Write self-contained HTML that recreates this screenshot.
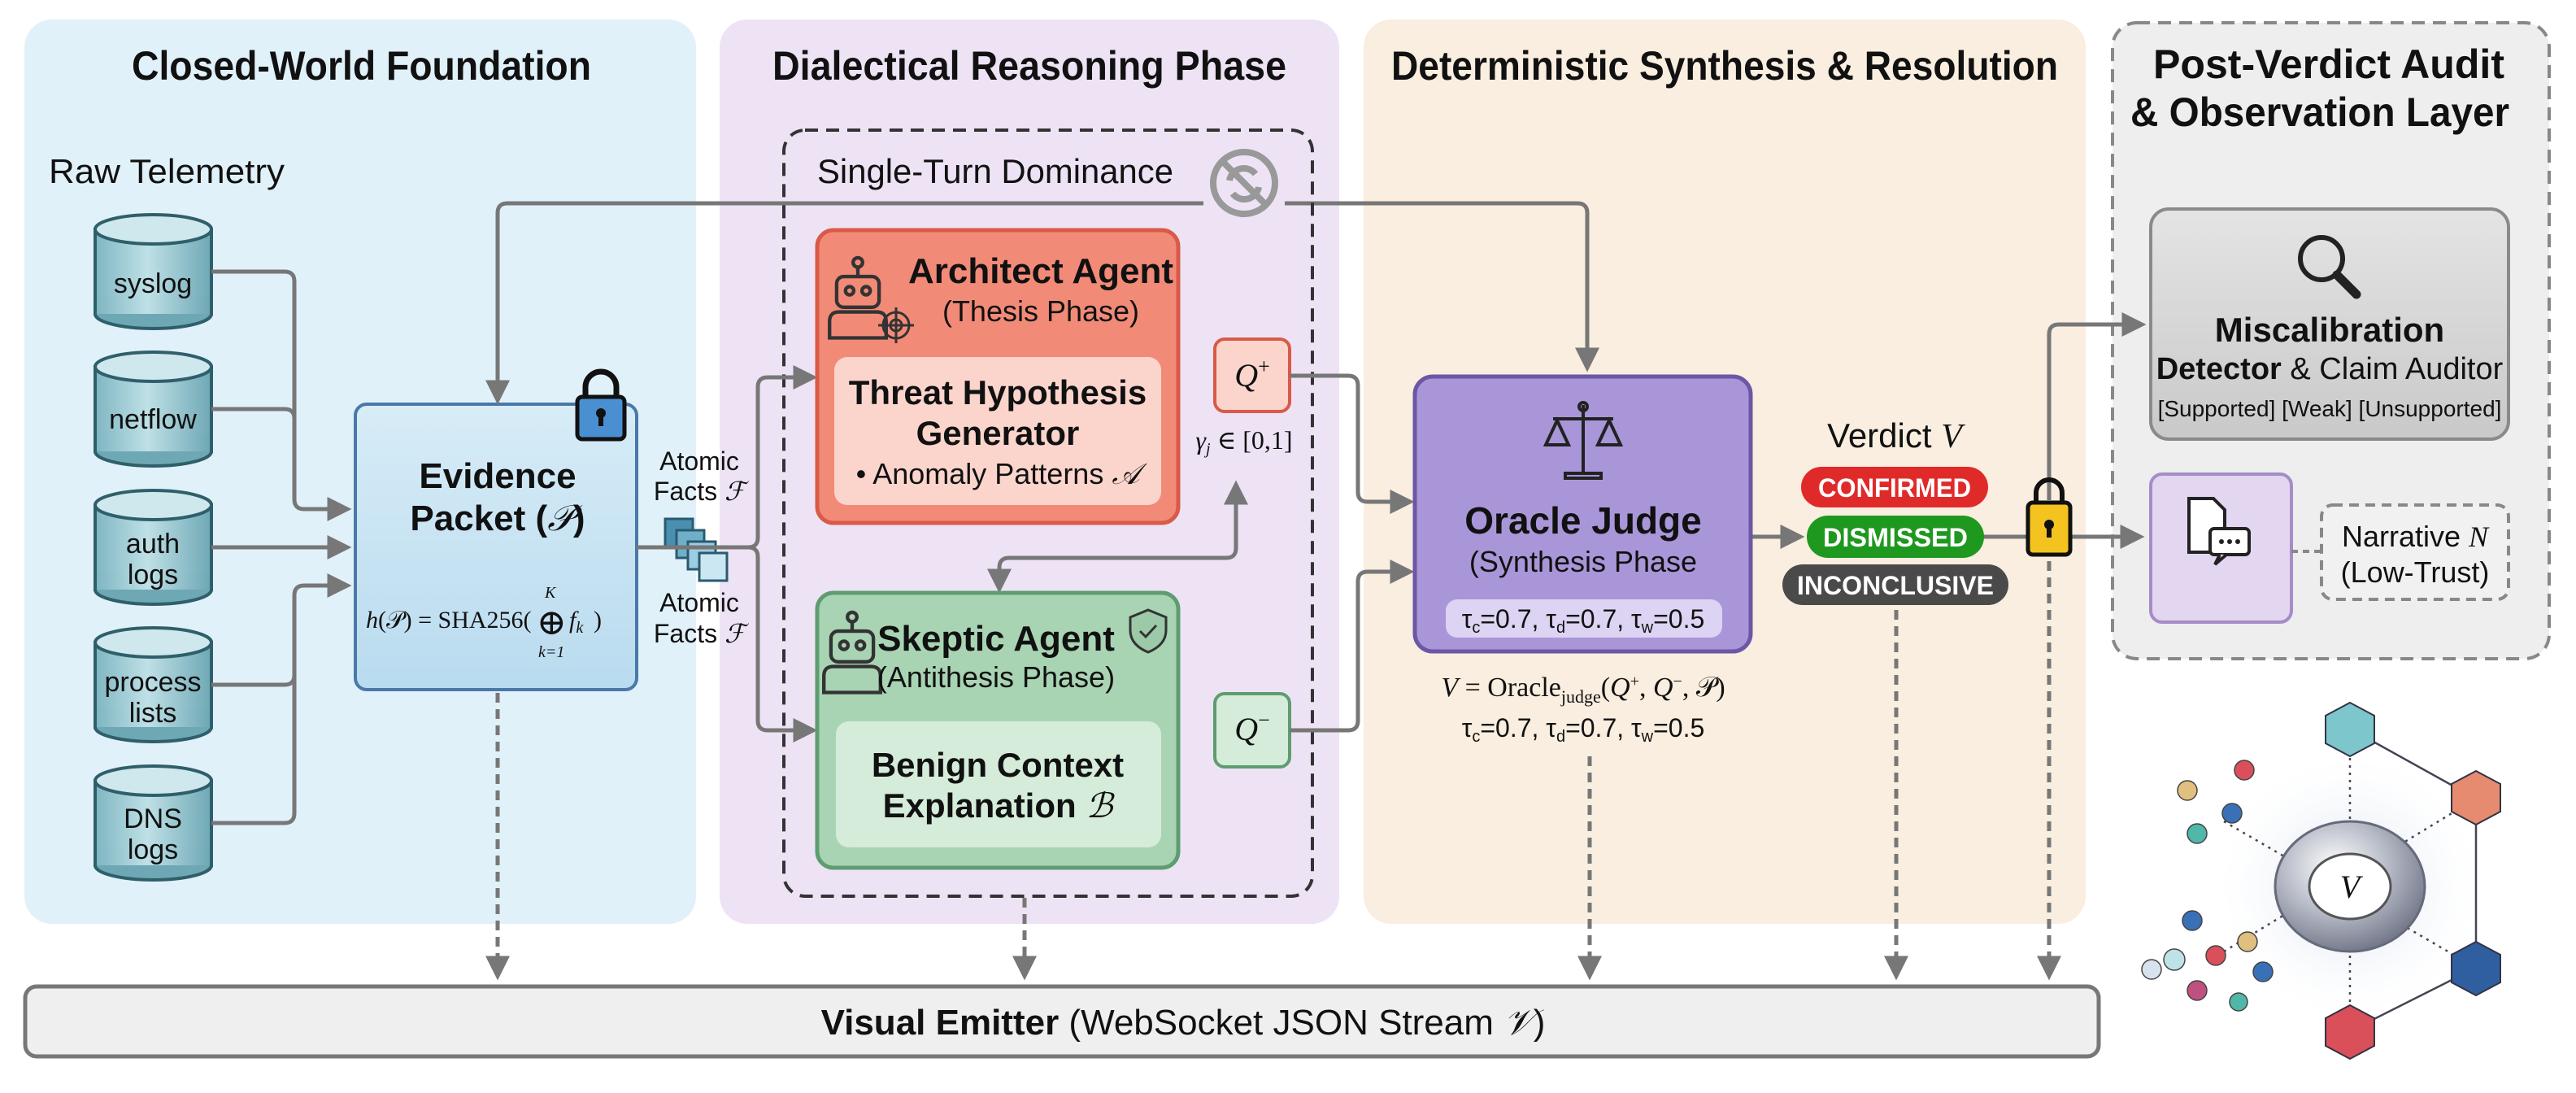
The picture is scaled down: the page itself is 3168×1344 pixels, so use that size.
<!DOCTYPE html>
<html><head><meta charset="utf-8"><style>
html,body{margin:0;padding:0;background:#fff}
svg{display:block}
.t{font-family:"Liberation Sans Narrow","Liberation Sans","DejaVu Sans",sans-serif}
.s{font-family:"Liberation Serif","DejaVu Serif",serif}
</style></head><body>
<svg width="3168" height="1344" viewBox="0 0 3168 1344" xmlns="http://www.w3.org/2000/svg">
<defs>
<marker id="ar" markerWidth="6" markerHeight="6" refX="4.5" refY="3" orient="auto" markerUnits="strokeWidth"><path d="M0,0 L6,3 L0,6 Z" fill="#777"/></marker>
<linearGradient id="cyl" x1="0" x2="1"><stop offset="0" stop-color="#7fb6c2"/><stop offset="0.45" stop-color="#bfe0e6"/><stop offset="1" stop-color="#6ea8b5"/></linearGradient>
<linearGradient id="ev" x1="0" y1="0" x2="0" y2="1"><stop offset="0" stop-color="#d7ecf7"/><stop offset="1" stop-color="#b9dbef"/></linearGradient>
<linearGradient id="gr" x1="0" y1="0" x2="0" y2="1"><stop offset="0" stop-color="#e4e4e4"/><stop offset="1" stop-color="#c9c9c9"/></linearGradient>
<radialGradient id="tor" cx="0.4" cy="0.35" r="0.7"><stop offset="0" stop-color="#ffffff"/><stop offset="0.5" stop-color="#b8bcc8"/><stop offset="1" stop-color="#6d7284"/></radialGradient>
<radialGradient id="halo"><stop offset="0" stop-color="#c9d6ea" stop-opacity="0.8"/><stop offset="1" stop-color="#fff" stop-opacity="0"/></radialGradient>
<g id="cy"><rect x="0" y="18" width="143" height="104" fill="url(#cyl)" stroke="#2f5f6a" stroke-width="4"/><ellipse cx="71.5" cy="122" rx="71.5" ry="18" fill="#6ea8b5" stroke="#2f5f6a" stroke-width="4"/><rect x="2" y="100" width="139" height="22" fill="url(#cyl)"/><ellipse cx="71.5" cy="18" rx="71.5" ry="18" fill="#cfe8ed" stroke="#2f5f6a" stroke-width="4"/></g>
<g id="bot" fill="none" stroke="#333" stroke-width="3"><circle cx="0" cy="-34" r="4"/><line x1="0" y1="-30" x2="0" y2="-22"/><rect x="-18" y="-22" width="36" height="26" rx="6"/><circle cx="-7" cy="-10" r="3.5"/><circle cx="7" cy="-10" r="3.5"/><path d="M-24,30 v-14 q0,-8 8,-8 h32 q8,0 8,8 v14 z"/></g>
</defs>

<!-- panels -->
<rect x="30" y="24" width="826" height="1112" rx="34" fill="#e1f1fa"/>
<rect x="885" y="24" width="762" height="1112" rx="34" fill="#ede3f5"/>
<rect x="1677" y="24" width="888" height="1112" rx="34" fill="#f9eedf"/>
<rect x="2598" y="28" width="537" height="782" rx="30" fill="#eeeeee" stroke="#888" stroke-width="4" stroke-dasharray="16 10"/>

<g class="t" font-weight="bold" font-size="50" fill="#111" lengthAdjust="spacingAndGlyphs">
<text x="162" y="98" textLength="565" lengthAdjust="spacingAndGlyphs">Closed-World Foundation</text>
<text x="950" y="98" textLength="632" lengthAdjust="spacingAndGlyphs">Dialectical Reasoning Phase</text>
<text x="1711" y="98" textLength="820" lengthAdjust="spacingAndGlyphs">Deterministic Synthesis &amp; Resolution</text>
<text x="2648" y="96" textLength="432" lengthAdjust="spacingAndGlyphs">Post-Verdict Audit</text>
<text x="2620" y="155" textLength="466" lengthAdjust="spacingAndGlyphs">&amp; Observation Layer</text>
</g>
<text class="t" x="60" y="225" font-size="42" fill="#111" textLength="290" lengthAdjust="spacingAndGlyphs">Raw Telemetry</text>

<!-- cylinders -->
<use href="#cy" x="117" y="264"/>
<use href="#cy" x="117" y="433"/>
<use href="#cy" x="117" y="603"/>
<use href="#cy" x="117" y="772"/>
<use href="#cy" x="117" y="942"/>
<g class="t" font-size="34" fill="#111" text-anchor="middle">
<text x="188" y="360">syslog</text>
<text x="188" y="527">netflow</text>
<text x="188" y="680">auth</text><text x="188" y="718">logs</text>
<text x="188" y="850">process</text><text x="188" y="888">lists</text>
<text x="188" y="1018">DNS</text><text x="188" y="1056">logs</text>
</g>

<!-- cylinder bus -->
<g fill="none" stroke="#777" stroke-width="5">
<path d="M260,334 H350 q12,0 12,12 V614 q0,12 12,12 H425" marker-end="url(#ar)"/>
<path d="M260,503 H350 q12,0 12,12"/>
<path d="M260,673 H425" marker-end="url(#ar)"/>
<path d="M260,842 H350 q12,0 12,-12 V732 q0,-12 12,-12 H425" marker-end="url(#ar)"/>
<path d="M260,1012 H350 q12,0 12,-12 V830"/>
</g>

<!-- evidence packet -->
<rect x="437" y="497" width="346" height="351" rx="14" fill="url(#ev)" stroke="#4a78a8" stroke-width="4"/>
<g class="t" font-weight="bold" font-size="44" fill="#111" text-anchor="middle">
<text x="612" y="600">Evidence</text><text x="612" y="652">Packet (<tspan class="s" font-style="italic" font-weight="normal">𝒫</tspan>)</text></g>
<g class="s" font-size="30" fill="#111">
<text x="450" y="772"><tspan font-style="italic">h</tspan>(𝒫) = SHA256(</text><text x="660" y="780" font-size="44">⊕</text><text x="700" y="772" font-style="italic">f<tspan font-size="20" dy="6">k</tspan></text><text x="730" y="772">)</text>
<text x="670" y="735" font-size="20" font-style="italic">K</text><text x="662" y="808" font-size="20" font-style="italic">k=1</text></g>
<!-- lock -->
<path d="M720,490 v-14 a19,19 0 0 1 38,0 v14" fill="none" stroke="#111" stroke-width="7"/>
<rect x="710" y="488" width="58" height="52" rx="6" fill="#4a8fd1" stroke="#111" stroke-width="5"/>
<circle cx="739" cy="508" r="6" fill="#111"/><rect x="736" y="508" width="6" height="16" fill="#111"/>

<!-- top loop line -->
<path d="M1480,250 H624 q-12,0 -12,12 V490" fill="none" stroke="#777" stroke-width="5" marker-end="url(#ar)"/>
<path d="M1580,250 H1940 q12,0 12,12 V450" fill="none" stroke="#777" stroke-width="5" marker-end="url(#ar)"/>

<!-- dashed box -->
<rect x="964" y="160" width="650" height="942" rx="26" fill="none" stroke="#333" stroke-width="4" stroke-dasharray="16 10"/>
<text class="t" x="1005" y="225" font-size="42" fill="#111" textLength="438" lengthAdjust="spacingAndGlyphs">Single-Turn Dominance</text>
<g fill="none" stroke="#999" stroke-width="8"><circle cx="1530" cy="225" r="38"/><line x1="1503" y1="198" x2="1557" y2="252"/><path d="M1512,222 a18,18 0 0 1 32,-8"/><path d="M1548,230 a18,18 0 0 1 -32,8"/></g>

<!-- atomic facts -->
<g class="t" font-size="32" fill="#111" text-anchor="middle">
<text x="860" y="578">Atomic</text><text x="860" y="615">Facts <tspan class="s" font-style="italic">ℱ</tspan></text>
<text x="860" y="752">Atomic</text><text x="860" y="790">Facts <tspan class="s" font-style="italic">ℱ</tspan></text></g>
<rect x="818" y="638" width="34" height="34" fill="#4a8fb0" stroke="#2b5a70" stroke-width="3"/>
<rect x="832" y="652" width="34" height="34" fill="#6fb0c8" stroke="#2b5a70" stroke-width="3"/>
<rect x="846" y="666" width="34" height="34" fill="#9ccde0" stroke="#2b5a70" stroke-width="3"/>
<rect x="860" y="680" width="34" height="34" fill="#cbe7f2" stroke="#2b5a70" stroke-width="3"/>
<g fill="none" stroke="#777" stroke-width="5">
<path d="M783,673 H920 q12,0 12,-12 V476 q0,-12 12,-12 H998" marker-end="url(#ar)"/>
<path d="M900,673 H920 q12,0 12,12 V886 q0,12 12,12 H998" marker-end="url(#ar)"/>
<path d="M1229,722 V698 q0,-12 12,-12 H1508 q12,0 12,-12 V598" marker-end="url(#ar)"/>
<path d="M1229,700 V722" marker-end="url(#ar)"/>
</g>

<!-- architect -->
<rect x="1005" y="283" width="444" height="360" rx="20" fill="#f28a78" stroke="#d95a48" stroke-width="5"/>
<use href="#bot" transform="translate(1055,372) scale(1.45)"/>
<g fill="none" stroke="#333" stroke-width="3"><circle cx="1102" cy="400" r="16"/><circle cx="1102" cy="400" r="7"/><line x1="1080" y1="400" x2="1124" y2="400"/><line x1="1102" y1="378" x2="1102" y2="422"/></g>
<text class="t" x="1280" y="348" font-weight="bold" font-size="44" fill="#111" text-anchor="middle">Architect Agent</text>
<text class="t" x="1280" y="395" font-size="36" fill="#111" text-anchor="middle">(Thesis Phase)</text>
<rect x="1026" y="439" width="402" height="182" rx="16" fill="#fbd5cc"/>
<g class="t" fill="#111" text-anchor="middle"><text x="1227" y="497" font-weight="bold" font-size="42">Threat Hypothesis</text><text x="1227" y="547" font-weight="bold" font-size="42">Generator</text><text x="1227" y="595" font-size="36">• Anomaly Patterns <tspan class="s" font-style="italic">𝒜</tspan></text></g>
<rect x="1494" y="417" width="92" height="89" rx="12" fill="#fbd5cc" stroke="#d95a48" stroke-width="4"/>
<text class="s" x="1540" y="475" font-style="italic" font-size="40" fill="#111" text-anchor="middle">Q<tspan font-size="26" dy="-16" font-style="normal">+</tspan></text>
<text class="s" x="1530" y="552" font-size="32" fill="#111" text-anchor="middle"><tspan font-style="italic">γ<tspan font-size="20" dy="6">j</tspan></tspan><tspan dy="-6"> ∈ [0,1]</tspan></text>

<!-- skeptic -->
<rect x="1005" y="729" width="444" height="338" rx="20" fill="#a9d4b4" stroke="#5f9c70" stroke-width="5"/>
<use href="#bot" transform="translate(1048,808) scale(1.45)"/>
<text class="t" x="1225" y="800" font-weight="bold" font-size="44" fill="#111" text-anchor="middle">Skeptic Agent</text>
<path d="M1412,750 l22,9 v16 q0,18 -22,27 q-22,-9 -22,-27 v-16 z" fill="#9cc9a8" stroke="#333" stroke-width="3"/><path d="M1402,776 l7,7 l13,-14" fill="none" stroke="#333" stroke-width="3"/>
<text class="t" x="1225" y="845" font-size="36" fill="#111" text-anchor="middle">(Antithesis Phase)</text>
<rect x="1028" y="887" width="400" height="155" rx="16" fill="#d4ecd9"/>
<g class="t" fill="#111" text-anchor="middle" font-weight="bold" font-size="42"><text x="1227" y="955">Benign Context</text><text x="1227" y="1005">Explanation <tspan class="s" font-style="italic" font-weight="normal">ℬ</tspan></text></g>
<rect x="1494" y="853" width="92" height="90" rx="12" fill="#d4ecd9" stroke="#5f9c70" stroke-width="4"/>
<text class="s" x="1540" y="910" font-style="italic" font-size="40" fill="#111" text-anchor="middle">Q<tspan font-size="26" dy="-16" font-style="normal">−</tspan></text>

<g fill="none" stroke="#777" stroke-width="5">
<path d="M1586,462 H1658 q12,0 12,12 V605 q0,12 12,12 H1732" marker-end="url(#ar)"/>
<path d="M1586,898 H1658 q12,0 12,-12 V715 q0,-12 12,-12 H1732" marker-end="url(#ar)"/>
<path d="M2153,660 H2212" marker-end="url(#ar)"/>
<path d="M2438,660 H2492"/>
<path d="M2548,660 H2630" marker-end="url(#ar)"/>
<path d="M2520,615 V411 q0,-12 12,-12 H2632" marker-end="url(#ar)"/>
</g>

<!-- oracle -->
<rect x="1740" y="463" width="413" height="338" rx="22" fill="#a996d8" stroke="#6b57a6" stroke-width="5"/>
<g fill="none" stroke="#222" stroke-width="4"><line x1="1947" y1="498" x2="1947" y2="580"/><line x1="1910" y1="515" x2="1984" y2="515"/><path d="M1915,517 l-14,30 h28 z"/><path d="M1979,517 l-14,30 h28 z"/><path d="M1925,582 h44 v6 h-44 z"/><circle cx="1947" cy="500" r="5"/></g>
<text class="t" x="1947" y="656" font-weight="bold" font-size="46" fill="#111" text-anchor="middle">Oracle Judge</text>
<text class="t" x="1947" y="703" font-size="36" fill="#111" text-anchor="middle">(Synthesis Phase</text>
<rect x="1778" y="737" width="340" height="47" rx="14" fill="#ddd3f2"/>
<text class="t" x="1947" y="772" font-size="32" fill="#111" text-anchor="middle">τ<tspan font-size="20" dy="6">c</tspan><tspan dy="-6">=0.7, τ</tspan><tspan font-size="20" dy="6">d</tspan><tspan dy="-6">=0.7, τ</tspan><tspan font-size="20" dy="6">w</tspan><tspan dy="-6">=0.5</tspan></text>
<text class="s" x="1947" y="856" font-size="34" fill="#111" text-anchor="middle"><tspan font-style="italic">V</tspan> = Oracle<tspan font-size="22" dy="8">judge</tspan><tspan dy="-8">(</tspan><tspan font-style="italic">Q</tspan><tspan font-size="20" dy="-12">+</tspan><tspan dy="12">, </tspan><tspan font-style="italic">Q</tspan><tspan font-size="20" dy="-12">−</tspan><tspan dy="12">, 𝒫)</tspan></text>
<text class="t" x="1947" y="906" font-size="32" fill="#111" text-anchor="middle">τ<tspan font-size="20" dy="6">c</tspan><tspan dy="-6">=0.7, τ</tspan><tspan font-size="20" dy="6">d</tspan><tspan dy="-6">=0.7, τ</tspan><tspan font-size="20" dy="6">w</tspan><tspan dy="-6">=0.5</tspan></text>

<!-- verdict -->
<text class="t" x="2330" y="550" font-size="42" fill="#111" text-anchor="middle">Verdict <tspan class="s" font-style="italic">V</tspan></text>
<rect x="2215" y="574" width="230" height="50" rx="25" fill="#e02a2a"/>
<rect x="2222" y="634" width="218" height="52" rx="26" fill="#1f981f"/>
<rect x="2192" y="694" width="278" height="50" rx="25" fill="#4a4a4a"/>
<g class="t" font-weight="bold" font-size="32" fill="#fff"><text x="2236" y="611" textLength="188" lengthAdjust="spacingAndGlyphs">CONFIRMED</text><text x="2242" y="672" textLength="178" lengthAdjust="spacingAndGlyphs">DISMISSED</text><text x="2210" y="731" textLength="242" lengthAdjust="spacingAndGlyphs">INCONCLUSIVE</text></g>
<!-- lock 2 -->
<path d="M2504,620 v-14 a16,16 0 0 1 32,0 v14" fill="none" stroke="#111" stroke-width="6"/>
<rect x="2494" y="618" width="52" height="64" rx="6" fill="#f5c320" stroke="#111" stroke-width="5"/>
<circle cx="2520" cy="645" r="6" fill="#111"/><rect x="2517" y="645" width="6" height="16" fill="#111"/>

<!-- audit -->
<rect x="2645" y="257" width="440" height="283" rx="22" fill="url(#gr)" stroke="#8a8a8a" stroke-width="4"/>
<circle cx="2855" cy="318" r="26" fill="none" stroke="#222" stroke-width="6"/><line x1="2874" y1="338" x2="2898" y2="362" stroke="#222" stroke-width="11" stroke-linecap="round"/>
<g class="t" fill="#111" text-anchor="middle"><text x="2865" y="420" font-weight="bold" font-size="42">Miscalibration</text><text x="2865" y="466" font-size="38"><tspan font-weight="bold">Detector</tspan> &amp; Claim Auditor</text><text x="2865" y="512" font-size="28">[Supported]  [Weak]  [Unsupported]</text></g>
<rect x="2645" y="583" width="173" height="182" rx="14" fill="#e2d6f0" stroke="#a68cc8" stroke-width="4"/>
<g fill="#fff" stroke="#222" stroke-width="4"><path d="M2692,613 h30 l14,14 v52 h-44 z"/><rect x="2718" y="650" width="48" height="32" rx="5"/><path d="M2730,682 l-6,12 l14,-12"/></g>
<g fill="#222"><circle cx="2732" cy="666" r="3"/><circle cx="2742" cy="666" r="3"/><circle cx="2752" cy="666" r="3"/></g>
<line x1="2818" y1="678" x2="2855" y2="678" stroke="#888" stroke-width="4" stroke-dasharray="8 6"/>
<rect x="2855" y="621" width="230" height="116" rx="14" fill="#f1f1f1" stroke="#888" stroke-width="4" stroke-dasharray="12 8"/>
<g class="t" font-size="36" fill="#111" text-anchor="middle"><text x="2970" y="672">Narrative <tspan class="s" font-style="italic">N</tspan></text><text x="2970" y="716">(Low-Trust)</text></g>

<!-- dashed downs -->
<g fill="none" stroke="#777" stroke-width="5" stroke-dasharray="12 8">
<path d="M612,852 V1198" marker-end="url(#ar)"/>
<path d="M1260,1104 V1198" marker-end="url(#ar)"/>
<path d="M1955,930 V1198" marker-end="url(#ar)"/>
<path d="M2332,750 V1198" marker-end="url(#ar)"/>
<path d="M2520,690 V1198" marker-end="url(#ar)"/>
</g>

<!-- visual emitter -->
<rect x="31" y="1213" width="2550" height="86" rx="14" fill="#efefef" stroke="#777" stroke-width="5"/>
<text class="t" x="1455" y="1272" font-size="44" fill="#111" text-anchor="middle"><tspan font-weight="bold">Visual Emitter</tspan> (WebSocket JSON Stream <tspan class="s" font-style="italic">𝒱</tspan>)</text>

<!-- bottom-right graphic -->
<circle cx="2890" cy="1090" r="170" fill="url(#halo)"/>
<g stroke="#445" stroke-width="2.5" fill="none"><path d="M2890,896 L3045,982 V1190 L2890,1268"/><line x1="2890" y1="896" x2="2890" y2="1268" stroke-dasharray="3 6"/><line x1="2735" y1="1010" x2="3045" y2="1190" stroke-dasharray="3 6"/><line x1="2735" y1="1170" x2="3045" y2="982" stroke-dasharray="3 6"/></g>
<ellipse cx="2890" cy="1090" rx="92" ry="80" fill="url(#tor)" stroke="#666a7a" stroke-width="3"/>
<ellipse cx="2890" cy="1090" rx="50" ry="40" fill="#fff" stroke="#555" stroke-width="3"/>
<text class="s" x="2890" y="1104" font-style="italic" font-size="40" fill="#111" text-anchor="middle">V</text>
<g stroke="#334" stroke-width="2">
<polygon points="2890,864 2920,880 2920,914 2890,930 2860,914 2860,880" fill="#7cc6cc"/>
<polygon points="3045,948 3075,964 3075,998 3045,1014 3015,998 3015,964" fill="#e68a70"/>
<polygon points="3045,1158 3075,1174 3075,1208 3045,1224 3015,1208 3015,1174" fill="#2f5f9e"/>
<polygon points="2890,1236 2920,1252 2920,1286 2890,1302 2860,1286 2860,1252" fill="#d9505a"/>
</g>
<g stroke="#444" stroke-width="1.5">
<circle cx="2760" cy="947" r="12" fill="#d9505a"/><circle cx="2690" cy="972" r="12" fill="#e0c080"/><circle cx="2745" cy="1000" r="12" fill="#3a70b8"/><circle cx="2702" cy="1025" r="12" fill="#4fb8a8"/>
<circle cx="2696" cy="1132" r="12" fill="#3a70b8"/><circle cx="2764" cy="1158" r="12" fill="#e0c080"/><circle cx="2725" cy="1175" r="12" fill="#d9505a"/><circle cx="2674" cy="1180" r="13" fill="#bfe2e6"/><circle cx="2646" cy="1192" r="12" fill="#d8e2ee"/><circle cx="2783" cy="1195" r="12" fill="#3a70b8"/><circle cx="2702" cy="1218" r="12" fill="#c05080"/><circle cx="2753" cy="1232" r="11" fill="#4fb8a8"/>
</g>
</svg>
</body></html>
